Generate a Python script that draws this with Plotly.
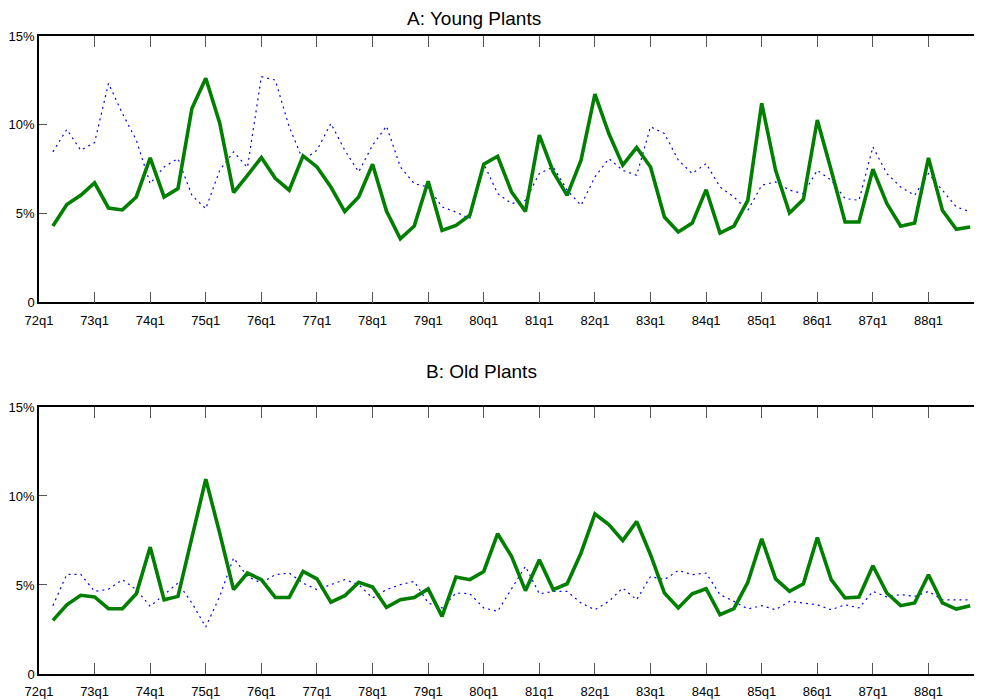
import plotly.graph_objects as go

# ---- data (percent), quarterly 72q2 .. 88q4 ----
tick_labels = ["72q1", "73q1", "74q1", "75q1", "76q1", "77q1", "78q1", "79q1", "80q1",
               "81q1", "82q1", "83q1", "84q1", "85q1", "86q1", "87q1", "88q1"]

quarters = [f"{y}q{q}" for y in range(72, 89) for q in range(1, 5)][1:]

young_solid = [4.30, 5.51, 6.03,
               6.73, 5.32, 5.21, 5.94,
               8.14, 5.94, 6.41, 10.92,
               12.62, 10.11, 6.19, 7.16,
               8.16, 6.99, 6.32, 8.25,
               7.63, 6.50, 5.12, 5.94,
               7.78, 5.15, 3.59, 4.30,
               6.82, 4.06, 4.34, 4.91,
               7.78, 8.23, 6.22, 5.13,
               9.42, 7.35, 6.03, 8.01,
               11.73, 9.51, 7.73, 8.72,
               7.63, 4.81, 3.97, 4.47,
               6.35, 3.91, 4.30, 5.75,
               11.21, 7.44, 5.04, 5.81,
               10.27, 7.44, 4.53, 4.53,
               7.50, 5.57, 4.29, 4.47,
               8.14, 5.19, 4.12, 4.25]

young_dotted = [8.48, 9.74, 8.57,
                9.00, 12.33, 10.64, 9.14,
                6.69, 7.63, 8.10, 6.03,
                5.28, 7.44, 8.48, 7.60,
                12.71, 12.52, 9.89, 8.01,
                8.57, 10.08, 8.57, 7.35,
                8.85, 9.93, 7.63, 6.69,
                6.50, 5.38, 5.09, 4.72,
                7.82, 6.13, 5.57, 5.75,
                7.26, 7.63, 6.32, 5.47,
                7.07, 8.10, 7.44, 7.16,
                9.89, 9.51, 8.01, 7.26,
                7.82, 6.50, 5.94, 5.19,
                6.60, 6.79, 6.32, 6.13,
                7.44, 6.88, 5.85, 5.75,
                8.76, 7.26, 6.50, 6.03,
                7.26, 6.32, 5.38, 5.10]

old_solid = [3.01, 3.89, 4.42,
             4.33, 3.67, 3.67, 4.51,
             7.13, 4.17, 4.36, 7.66,
             10.95, 7.92, 4.74, 5.67,
             5.30, 4.30, 4.30, 5.76,
             5.34, 4.04, 4.40, 5.15,
             4.89, 3.74, 4.17, 4.30,
             4.78, 3.24, 5.45, 5.30,
             5.76, 7.88, 6.61, 4.68,
             6.42, 4.74, 5.07, 6.80,
             8.99, 8.39, 7.49, 8.57,
             6.70, 4.55, 3.71, 4.51,
             4.79, 3.33, 3.67, 5.15,
             7.60, 5.34, 4.64, 5.07,
             7.67, 5.30, 4.27, 4.33,
             6.08, 4.55, 3.84, 3.99,
             5.58, 3.99, 3.65, 3.84]

old_dotted = [3.84, 5.60, 5.60,
              4.64, 4.76, 5.30, 4.74,
              3.80, 4.46, 5.11, 3.99,
              2.64, 4.36, 6.52, 5.48,
              5.11, 5.58, 5.67, 5.11,
              4.74, 5.02, 5.30, 5.02,
              4.27, 4.74, 5.02, 5.20,
              3.99, 3.71, 4.55, 4.51,
              3.71, 3.52, 4.78, 6.05,
              4.50, 4.64, 4.64, 3.99,
              3.61, 4.08, 4.83, 4.17,
              5.48, 5.30, 5.82, 5.58,
              5.67, 4.46, 4.08, 3.65,
              3.84, 3.61, 4.08, 3.99,
              3.89, 3.61, 3.89, 3.71,
              4.64, 4.33, 4.46, 4.36,
              4.64, 4.17, 4.17, 4.17]

y_tickvals = [0, 5, 10, 15]
y_ticktext = ["0", "5%", "10%", "15%"]

# positions: quarter index counted from 72q1 = 0
def qpos(label):
    yr, q = label.split("q")
    return (int(yr) - 72) * 4 + (int(q) - 1)

x = [qpos(s) for s in quarters]
tick_pos = [qpos(s) for s in tick_labels]

GREEN = "#007F00"
BLUE = "#0000FF"
FONT = "Liberation Sans, Arial, sans-serif"

fig = go.Figure()
for yref, solid, dotted in (("y", young_solid, young_dotted), ("y2", old_solid, old_dotted)):
    xref = "x" if yref == "y" else "x2"
    fig.add_trace(go.Scatter(x=x, y=dotted, mode="lines", xaxis=xref, yaxis=yref,
                             line=dict(color=BLUE, width=1.2, dash="2px,4px"),
                             showlegend=False, hoverinfo="skip"))
    fig.add_trace(go.Scatter(x=x, y=solid, mode="lines", xaxis=xref, yaxis=yref,
                             line=dict(color=GREEN, width=3.6),
                             showlegend=False, hoverinfo="skip"))

xr = [0, 67.85]
xcommon = dict(range=xr, tickmode="array", tickvals=tick_pos, ticktext=tick_labels,
               ticks="inside", ticklen=11, tickwidth=1, tickcolor="#555555",
               showline=True, linecolor="black", linewidth=1.5, mirror="ticks",
               showgrid=False, zeroline=False, ticklabelstandoff=5,
               tickfont=dict(family=FONT, size=13, color="black"))
ycommon = dict(range=[0, 15], tickmode="array", tickvals=y_tickvals, ticktext=y_ticktext,
               ticks="inside", ticklen=8, tickwidth=1, tickcolor="#555555",
               showline=True, linecolor="black", linewidth=1.5, mirror=False,
               showgrid=False, zeroline=False,
               tickfont=dict(family=FONT, size=13, color="black"))
yright = dict(range=[0, 15], tickmode="array", tickvals=y_tickvals,
              ticks="inside", ticklen=8, tickwidth=1, tickcolor="#555555",
              showticklabels=False, showline=False, showgrid=False, zeroline=False,
              side="right")

top_dom = [0.5823, 1.0]
bot_dom = [0.0, 0.4185]

fig.update_layout(
    width=974, height=692,
    margin=dict(l=31, r=0, t=28, b=26),
    paper_bgcolor="white", plot_bgcolor="white",
    xaxis=dict(**xcommon, anchor="y", domain=[0, 1]),
    xaxis2=dict(**xcommon, anchor="y2", domain=[0, 1]),
    yaxis=dict(**ycommon, anchor="x", domain=top_dom),
    yaxis2=dict(**ycommon, anchor="x2", domain=bot_dom),
    yaxis3=dict(**yright, overlaying="y", anchor="x"),
    yaxis4=dict(**yright, overlaying="y2", anchor="x2"),
    annotations=[
        dict(text="A: Young Plants", x=(474 - 39) / 943, y=1.0274, xref="paper", yref="paper",
             xanchor="center", yanchor="middle", showarrow=False,
             font=dict(family=FONT, size=19, color="black")),
        dict(text="B: Old Plants", x=(481 - 39) / 943, y=0.4749, xref="paper", yref="paper",
             xanchor="center", yanchor="middle", showarrow=False,
             font=dict(family=FONT, size=19, color="black")),
    ],
)
# invisible traces to activate right-side tick axes
fig.add_trace(go.Scatter(x=[None], y=[None], xaxis="x", yaxis="y3", showlegend=False))
fig.add_trace(go.Scatter(x=[None], y=[None], xaxis="x2", yaxis="y4", showlegend=False))

fig.write_html("out.html")
